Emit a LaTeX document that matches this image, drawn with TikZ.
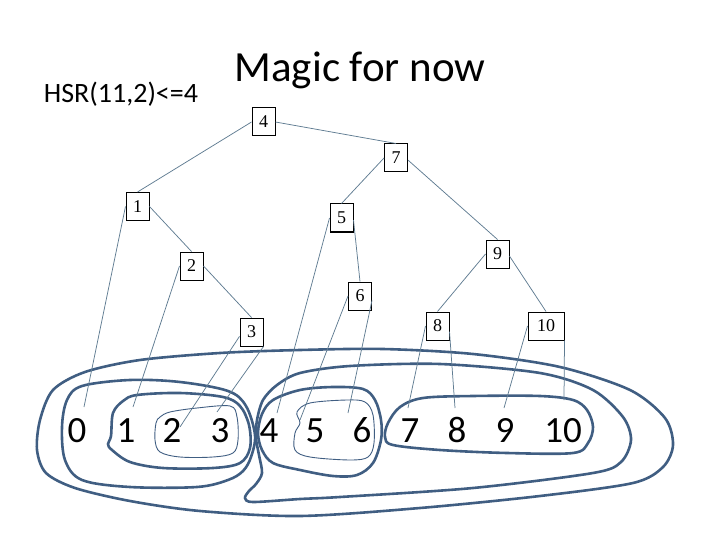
\documentclass[tikz,border=0pt]{standalone}
\usepackage{fontspec}
\setmainfont{Carlito}
\newfontfamily\boxfont{Liberation Serif}
\definecolor{loopc}{RGB}{64,94,130}
\definecolor{edgec}{RGB}{96,124,146}
\begin{document}
\begin{tikzpicture}[x=1pt,y=-1pt,
  tbox/.style={draw=black, line width=1pt, fill=white, minimum width=23pt, minimum height=28pt, inner sep=0pt, font=\boxfont\fontsize{18}{18}\selectfont},
  tedge/.style={draw=edgec, line width=0.75pt},
  bigloop/.style={draw=loopc, line width=2.6pt},
  thinloop/.style={draw=loopc, line width=0.9pt},
  digit/.style={font=\fontsize{37}{37}\selectfont, anchor=base, inner sep=0pt}]
\useasboundingbox (0,0) rectangle (720,540);
% titles
\node[anchor=base, inner sep=0pt, font=\fontsize{43}{43}\selectfont] (title) at (360,82) {Magic for now};
\node[anchor=base, inner sep=0pt, font=\fontsize{28}{28}\selectfont] (hsr) at (121,103) {HSR(11,2)<=4};
% loops
\draw[bigloop] plot[smooth cycle, tension=0.5] coordinates {(40,420) (53,390) (85,372) (140,360) (220,353) (300,350) (383,349) (473,354) (560,367) (630,390) (665,418) (673,445) (663,467) (633,483) (540,496) (420,508) (300,516) (200,511) (130,501) (75,488) (46,473) (37,450)};
\draw[bigloop] plot[smooth cycle, tension=0.55] coordinates {(62,427) (67,400) (82,386) (130,380) (180,382) (228,391) (246,406) (255,435) (251,457) (243,471) (228,480) (197,487) (130,487) (82,480) (65,460)};
\draw[bigloop] plot[smooth cycle, tension=0.55] coordinates {(113,413) (123,401) (137,395) (180,393) (223,397) (240,406) (249,425) (250,448) (240,463) (213,468) (163,468) (130,462) (112,450) (108,444) (111,436)};
\draw[bigloop] plot[smooth cycle, tension=0.55] coordinates {(258,433) (262,414) (273,400) (300,390) (333,387) (363,389) (375,400) (381,420) (381,440) (373,463) (357,475) (333,476) (300,470) (273,463) (262,450)};
\draw[bigloop] plot[smooth cycle, tension=0.5] coordinates {(257,420) (263,400) (277,385) (300,373) (350,366) (440,364) (540,373) (593,390) (623,417) (631,440) (621,462) (593,473) (473,488) (340,497) (300,499) (253,502) (245,498) (249,491) (256,484) (262,473) (259,455) (256,438)};
\draw[bigloop] plot[smooth cycle, tension=0.55] coordinates {(400,407) (423,398) (473,396) (540,396) (573,400) (587,410) (593,427) (588,443) (573,453) (507,453) (440,450) (393,445) (385,437) (388,423)};
\draw[thinloop] plot[smooth cycle, tension=0.55] coordinates {(156,423) (160,417) (170,412) (197,408) (230,406) (237,417) (238,440) (233,453) (213,457) (180,457) (160,452) (155,440)};
\draw[thinloop] plot[smooth cycle, tension=0.55] coordinates {(297,412) (310,403) (347,400) (365,402) (373,415) (374,443) (368,457) (350,460) (310,457) (295,450) (295,433) (300,423)};
% digits
\node[digit] (d0) at (77,442) {0};
\node[digit] (d1) at (126,442) {1};
\node[digit] (d2) at (172,442) {2};
\node[digit] (d3) at (220,442) {3};
\node[digit] (d4) at (269,442) {4};
\node[digit] (d5) at (315,442) {5};
\node[digit] (d6) at (362,442) {6};
\node[digit] (d7) at (410,442) {7};
\node[digit] (d8) at (457,442) {8};
\node[digit] (d9) at (505,442) {9};
\node[digit] (d10) at (563,442) {10};
\coordinate (t0) at (84,407);
\coordinate (t1) at (133,407);
\coordinate (t2) at (180,427);
\coordinate (t3) at (217,412);
\coordinate (t4) at (277,413);
\coordinate (t5) at (300,420);
\coordinate (t6) at (348,413);
\coordinate (t7) at (408,408);
\coordinate (t8) at (455,408);
\coordinate (t9) at (504,408);
\coordinate (t10) at (564,400);
% tree boxes
\node[tbox] (n4) at (263.5,122) {4};
\node[tbox] (n7) at (396,158) {7};
\node[tbox] (n1) at (137.5,206.5) {1};
\node[tbox] (n5) at (341.5,218) {5};
\node[tbox] (n9) at (497.5,254) {9};
\node[tbox] (n2) at (191.5,266) {2};
\node[tbox] (n6) at (360,296) {6};
\node[tbox] (n3) at (251.5,332) {3};
\node[tbox] (n8) at (437.5,326) {8};
\node[tbox, minimum width=36pt] (n10) at (546,326) {10};
% tree edges
\draw[tedge] (n4.west) -- (n1.north);
\draw[tedge] (n4.east) -- (n7.north);
\draw[tedge] (n7.west) -- (n5.north);
\draw[tedge] (n7.-10) -- (n9.north);
\draw[tedge] (n1.east) -- (n2.north);
\draw[tedge] (n2.east) -- (n3.north);
\draw[tedge] (n5.-10) -- (n6.north);
\draw[tedge] (n9.west) -- (n8.north);
\draw[tedge] (n9.-10) -- (n10.north);
% pointers to positions
\draw[tedge] (n1.west) -- (t0);
\draw[tedge] (n2.west) -- (t1);
\draw[tedge] (n3.200) -- (t2);
\draw[tedge] (n3.south east) -- (t3);
\draw[tedge] (n5.west) -- (t4);
\draw[tedge] (n6.west) -- (t5);
\draw[tedge] (n6.-20) -- (t6);
\draw[tedge] (n8.west) -- (t7);
\draw[tedge] (n8.-25) -- (t8);
\draw[tedge] (n10.west) -- (t9);
\draw[tedge] (n10.south east) -- (t10);
\end{tikzpicture}
\end{document}
